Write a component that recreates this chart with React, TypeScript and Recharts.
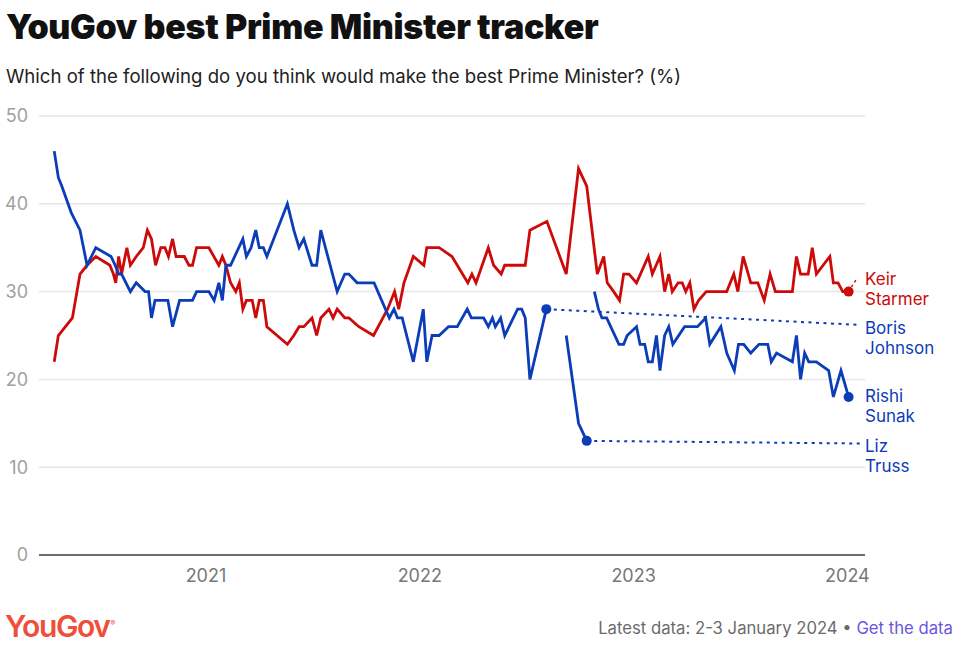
import { LineChart, Line, XAxis, YAxis, CartesianGrid, ReferenceLine, ReferenceDot } from 'recharts';

// Poll readings (% saying each would make the best PM), date of fieldwork
const starmer: [string, number][] = [
  ['2020-04-17', 22], ['2020-04-24', 25], ['2020-05-18', 27], ['2020-05-31', 32], ['2020-06-12', 33],
  ['2020-06-27', 34], ['2020-07-21', 33], ['2020-07-27', 32], ['2020-07-31', 31], ['2020-08-05', 34],
  ['2020-08-10', 32], ['2020-08-19', 35], ['2020-08-25', 33], ['2020-09-04', 34], ['2020-09-16', 35],
  ['2020-09-23', 37], ['2020-09-30', 36], ['2020-10-07', 33], ['2020-10-16', 35], ['2020-10-23', 35],
  ['2020-10-29', 34], ['2020-11-05', 36], ['2020-11-11', 34], ['2020-11-25', 34], ['2020-12-03', 33],
  ['2020-12-09', 33], ['2020-12-16', 35], ['2021-01-06', 35], ['2021-01-23', 33], ['2021-01-29', 34],
  ['2021-02-04', 33], ['2021-02-12', 31], ['2021-02-21', 30], ['2021-02-27', 31], ['2021-03-05', 28],
  ['2021-03-11', 29], ['2021-03-21', 29], ['2021-03-27', 27], ['2021-04-02', 29], ['2021-04-09', 29],
  ['2021-04-15', 26], ['2021-05-20', 24], ['2021-05-31', 25], ['2021-06-09', 26], ['2021-06-17', 26],
  ['2021-07-01', 27], ['2021-07-09', 25], ['2021-07-16', 27], ['2021-07-30', 28], ['2021-08-06', 27],
  ['2021-08-13', 28], ['2021-08-26', 27], ['2021-09-02', 27], ['2021-09-19', 26], ['2021-10-14', 25],
  ['2021-11-07', 28], ['2021-11-19', 30], ['2021-11-26', 28], ['2021-12-05', 31], ['2021-12-21', 34],
  ['2022-01-08', 33], ['2022-01-13', 35], ['2022-02-03', 35], ['2022-02-25', 34], ['2022-03-24', 31],
  ['2022-03-31', 32], ['2022-04-07', 31], ['2022-04-28', 35], ['2022-05-07', 33], ['2022-05-20', 32],
  ['2022-05-26', 33], ['2022-06-30', 33], ['2022-07-08', 37], ['2022-08-06', 38], ['2022-09-08', 32],
  ['2022-09-29', 44], ['2022-10-13', 42], ['2022-10-31', 32], ['2022-11-11', 34], ['2022-11-17', 31],
  ['2022-11-28', 30], ['2022-12-08', 29], ['2022-12-15', 32], ['2022-12-24', 32], ['2023-01-06', 31],
  ['2023-01-26', 34], ['2023-02-02', 32], ['2023-02-15', 34], ['2023-02-23', 30], ['2023-03-02', 32],
  ['2023-03-08', 30], ['2023-03-18', 31], ['2023-03-25', 31], ['2023-03-31', 30], ['2023-04-07', 31],
  ['2023-04-14', 28], ['2023-04-22', 29], ['2023-05-05', 30], ['2023-06-09', 30], ['2023-06-21', 32],
  ['2023-06-28', 30], ['2023-07-07', 34], ['2023-07-20', 31], ['2023-08-01', 31], ['2023-08-12', 29],
  ['2023-08-22', 32], ['2023-08-31', 30], ['2023-09-29', 30], ['2023-10-06', 34], ['2023-10-13', 32],
  ['2023-10-26', 32], ['2023-11-02', 35], ['2023-11-09', 32], ['2023-12-02', 34], ['2023-12-08', 31],
  ['2023-12-16', 31], ['2023-12-24', 30], ['2024-01-03', 30],
];

const johnson: [string, number][] = [
  ['2020-04-17', 46], ['2020-04-24', 43], ['2020-04-30', 42], ['2020-05-16', 39], ['2020-05-31', 37],
  ['2020-06-12', 33], ['2020-06-27', 35], ['2020-07-23', 34], ['2020-07-30', 33], ['2020-08-05', 32],
  ['2020-08-10', 32], ['2020-08-25', 30], ['2020-09-04', 31], ['2020-09-19', 30], ['2020-09-25', 30],
  ['2020-09-30', 27], ['2020-10-06', 29], ['2020-10-28', 29], ['2020-11-05', 26], ['2020-11-17', 29],
  ['2020-12-09', 29], ['2020-12-16', 30], ['2021-01-06', 30], ['2021-01-15', 29], ['2021-01-23', 31],
  ['2021-01-29', 29], ['2021-02-04', 33], ['2021-02-12', 33], ['2021-03-05', 36], ['2021-03-11', 34],
  ['2021-03-19', 35], ['2021-03-27', 37], ['2021-04-02', 35], ['2021-04-09', 35], ['2021-04-15', 34],
  ['2021-05-20', 40], ['2021-05-31', 37], ['2021-06-09', 35], ['2021-06-17', 36], ['2021-07-01', 33],
  ['2021-07-09', 33], ['2021-07-16', 37], ['2021-08-13', 30], ['2021-08-26', 32], ['2021-09-02', 32],
  ['2021-09-16', 31], ['2021-10-15', 31], ['2021-11-10', 27], ['2021-11-18', 28], ['2021-11-24', 27],
  ['2021-12-02', 27], ['2021-12-21', 22], ['2022-01-07', 28], ['2022-01-13', 22], ['2022-01-22', 25],
  ['2022-02-03', 25], ['2022-02-19', 26], ['2022-03-06', 26], ['2022-03-23', 28], ['2022-03-30', 27],
  ['2022-04-20', 27], ['2022-04-28', 26], ['2022-05-05', 27], ['2022-05-10', 26], ['2022-05-19', 27],
  ['2022-05-26', 25], ['2022-06-17', 28], ['2022-06-24', 28], ['2022-06-30', 27], ['2022-07-08', 20],
  ['2022-08-05', 28],
];

const truss: [string, number][] = [
  ['2022-09-08', 25], ['2022-09-29', 15], ['2022-10-13', 13],
];

const sunak: [string, number][] = [
  ['2022-10-26', 30], ['2022-11-02', 28], ['2022-11-08', 27], ['2022-11-16', 27], ['2022-12-07', 24],
  ['2022-12-15', 24], ['2022-12-21', 25], ['2023-01-06', 26], ['2023-01-12', 24], ['2023-01-20', 24],
  ['2023-01-26', 22], ['2023-02-02', 22], ['2023-02-09', 25], ['2023-02-15', 21], ['2023-02-23', 25],
  ['2023-03-02', 26], ['2023-03-09', 24], ['2023-03-29', 26], ['2023-04-20', 26], ['2023-05-04', 27],
  ['2023-05-11', 24], ['2023-05-30', 26], ['2023-06-09', 23], ['2023-06-22', 21], ['2023-06-29', 24],
  ['2023-07-08', 24], ['2023-07-20', 23], ['2023-08-03', 24], ['2023-08-18', 24], ['2023-08-24', 22],
  ['2023-09-02', 23], ['2023-09-29', 22], ['2023-10-06', 25], ['2023-10-13', 20], ['2023-10-20', 23],
  ['2023-10-27', 22], ['2023-11-09', 22], ['2023-11-30', 21], ['2023-12-08', 18], ['2023-12-21', 21],
  ['2024-01-03', 18],
];

const yTicks = [0, 10, 20, 30, 40, 50];
const yearTicks = ['2021-01-01', '2022-01-01', '2023-01-01', '2024-01-01'];

const RED = '#cc0a0a';
const BLUE = '#0b3db8';

const rows = (s: [string, number][]) => s.map(([d, v]) => ({ t: Date.parse(d), v }));
const last = (s: [string, number][]) => ({ t: Date.parse(s[s.length - 1][0]), v: s[s.length - 1][1] });

const starmerRows = rows(starmer);
const johnsonRows = rows(johnson);
const trussRows = rows(truss);
const sunakRows = rows(sunak);

// where the leader lines meet the right-hand labels
const labelEdge = Date.parse('2024-01-23');

const labelStyle = (top: number, color: string): React.CSSProperties => ({
  position: 'absolute', left: 865, top, color, fontSize: 17, lineHeight: '20px',
});

export default function App() {
  return (
    <div style={{ position: 'absolute', left: 0, top: 0, width: 960, height: 650, background: '#fff', fontFamily: 'Inter, sans-serif', overflow: 'hidden' }}>
      <div style={{ position: 'absolute', left: 6, top: 6, fontSize: 34, fontWeight: 900, color: '#111', letterSpacing: -0.3, whiteSpace: 'nowrap' }}>
        YouGov best Prime Minister tracker
      </div>
      <div style={{ position: 'absolute', left: 6, top: 65, fontSize: 18.6, color: '#222', whiteSpace: 'nowrap' }}>
        Which of the following do you think would make the best Prime Minister? (%)
      </div>

      <LineChart width={960} height={650} margin={{ top: 116, right: 95, bottom: 65, left: 6 }} style={{ position: 'absolute', left: 0, top: 0 }}>
        <CartesianGrid vertical={false} stroke="#e6e6e6" strokeWidth={1.5} />
        <XAxis
          dataKey="t"
          type="number"
          domain={[Date.parse('2020-03-22'), Date.parse('2024-01-31')]}
          ticks={yearTicks.map((d) => Date.parse(d))}
          tickFormatter={(t: number) => String(new Date(t).getUTCFullYear())}
          tickLine={false}
          tickSize={0}
          tickMargin={14}
          height={30}
          axisLine={{ stroke: '#444', strokeWidth: 1.5 }}
          tick={{ fill: '#777', fontSize: 18 }}
        />
        <YAxis
          domain={[0, 50]}
          ticks={yTicks}
          axisLine={false}
          tickLine={false}
          tickSize={0}
          tickMargin={11}
          width={33}
          tick={{ fill: '#a0a0a0', fontSize: 18 }}
        />

        <ReferenceLine segment={[last(johnson), { t: labelEdge, v: 26.2 }].map((p) => ({ x: p.t, y: p.v }))} stroke={BLUE} strokeWidth={2} strokeDasharray="3 4.5" ifOverflow="visible" />
        <ReferenceLine segment={[last(truss), { t: labelEdge, v: 12.7 }].map((p) => ({ x: p.t, y: p.v }))} stroke={BLUE} strokeWidth={2} strokeDasharray="3 4.5" ifOverflow="visible" />
        <ReferenceLine segment={[last(starmer), { t: Date.parse('2024-01-18'), v: 31.6 }].map((p) => ({ x: p.t, y: p.v }))} stroke={RED} strokeWidth={1.5} strokeDasharray="2.5 3" ifOverflow="visible" />

        <Line data={starmerRows} dataKey="v" stroke={RED} strokeWidth={2.8} dot={false} isAnimationActive={false} strokeLinejoin="miter" />
        <Line data={johnsonRows} dataKey="v" stroke={BLUE} strokeWidth={2.8} dot={false} isAnimationActive={false} strokeLinejoin="miter" />
        <Line data={trussRows} dataKey="v" stroke={BLUE} strokeWidth={2.8} dot={false} isAnimationActive={false} strokeLinejoin="miter" />
        <Line data={sunakRows} dataKey="v" stroke={BLUE} strokeWidth={2.8} dot={false} isAnimationActive={false} strokeLinejoin="miter" />

        <ReferenceDot x={last(starmer).t} y={last(starmer).v} r={5} fill={RED} stroke="none" />
        <ReferenceDot x={last(johnson).t} y={last(johnson).v} r={5} fill={BLUE} stroke="none" />
        <ReferenceDot x={last(truss).t} y={last(truss).v} r={5} fill={BLUE} stroke="none" />
        <ReferenceDot x={last(sunak).t} y={last(sunak).v} r={5} fill={BLUE} stroke="none" />
      </LineChart>

      <div style={labelStyle(269, RED)}>Keir<br />Starmer</div>
      <div style={labelStyle(318, BLUE)}>Boris<br />Johnson</div>
      <div style={labelStyle(386, BLUE)}>Rishi<br />Sunak</div>
      <div style={labelStyle(436, BLUE)}>Liz<br />Truss</div>

      <div style={{ position: 'absolute', left: 5, top: 608, fontSize: 30, fontWeight: 600, color: '#f04e3a', letterSpacing: -1.4 }}>
        YouGov<sup style={{ fontSize: 7, fontWeight: 400, marginLeft: 1 }}>®</sup>
      </div>
      <div style={{ position: 'absolute', right: 7, top: 618, fontSize: 16.7, color: '#6b6b6b', whiteSpace: 'nowrap' }}>
        Latest data: 2-3 January 2024 • <span style={{ color: '#6857de' }}>Get the data</span>
      </div>
    </div>
  );
}
